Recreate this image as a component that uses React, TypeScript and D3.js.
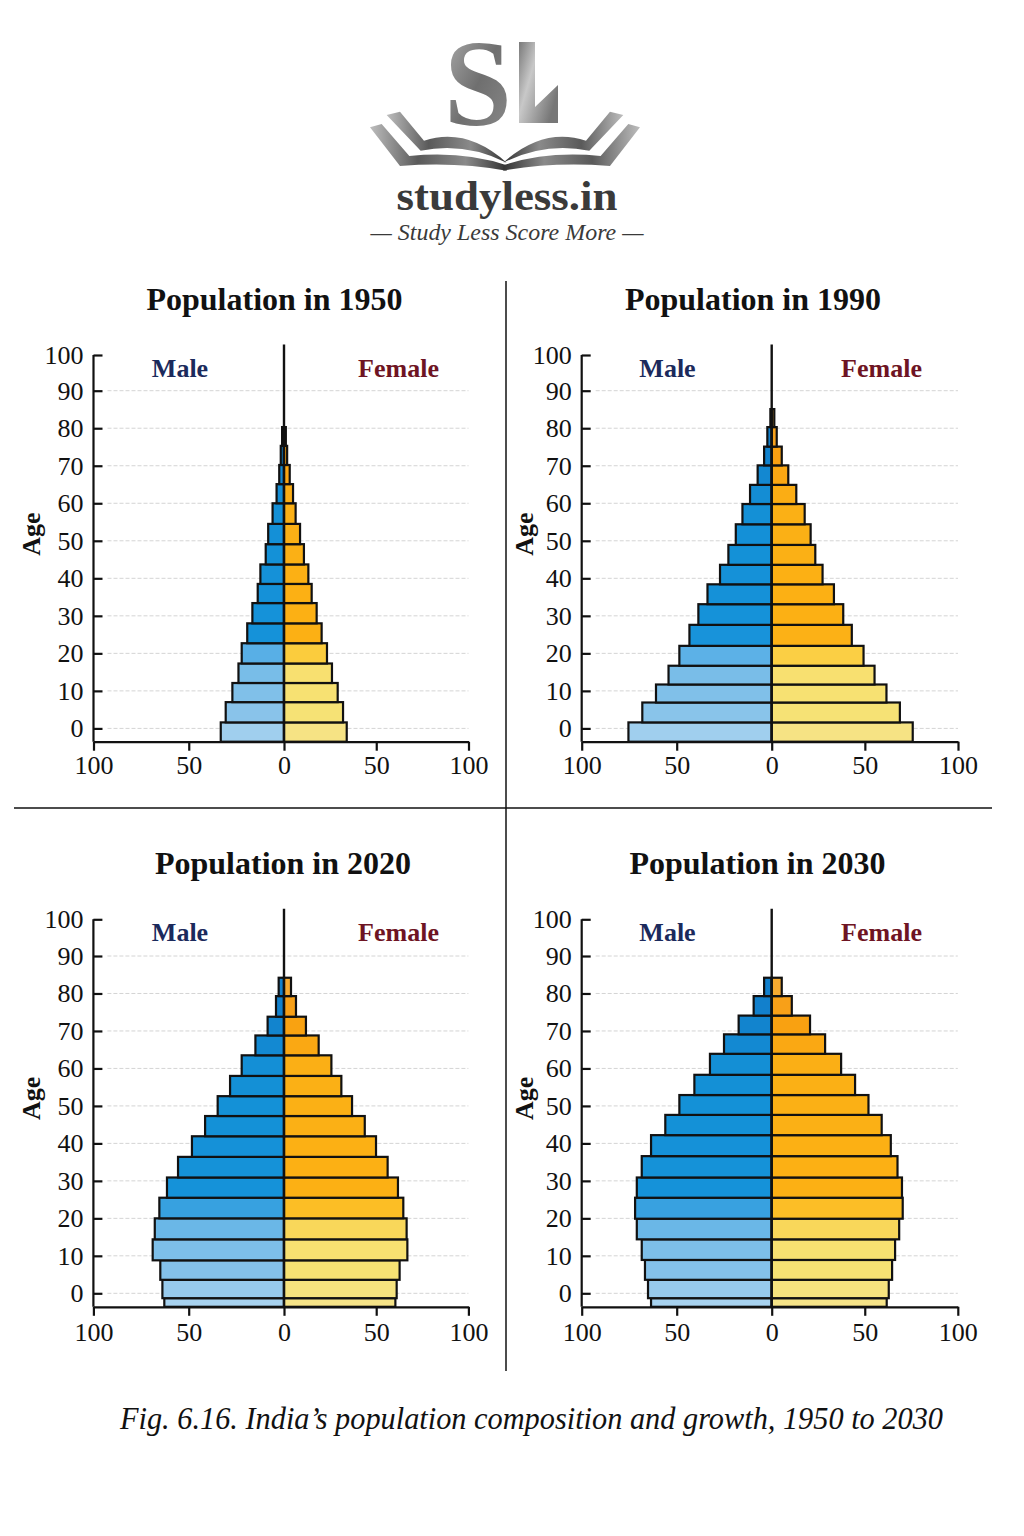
import { useEffect, useRef } from "react";
import * as d3 from "d3";

// age at the edge of each bar, bottom to top (one more edge than bars)
const edges1950 = [-3.55, 1.6, 7, 12.1, 17.3, 22.7, 28, 33.4, 38.5, 43.7, 49.1, 54.5, 60, 65.1, 70.2, 75.3, 80.3];
const male1950 = [33.2, 30.6, 27.1, 23.9, 22.2, 19.3, 16.6, 13.8, 12.4, 9.6, 8.3, 6.0, 3.9, 2.5, 1.7, 1.0];
const female1950 = [34, 32, 29.1, 26, 23.3, 20.4, 17.7, 15, 13.2, 10.8, 8.7, 6.3, 4.9, 3.1, 1.7, 1.0];

const edges1990 = [-3.55, 1.6, 6.9, 11.7, 16.7, 22, 27.6, 33.1, 38.4, 43.6, 48.9, 54.4, 59.8, 64.9, 70.1, 75.1, 80.3, 85.1];
const male1990 = [75.4, 68.1, 60.9, 54.3, 48.6, 43.3, 38.6, 33.8, 27.2, 22.8, 18.9, 15.4, 11.4, 7.4, 4, 2.3, 0.7];
const female1990 = [75.7, 68.8, 61.6, 55.2, 49.3, 43, 38.4, 33.4, 27.3, 23.4, 20.9, 17.7, 13.2, 8.9, 5.4, 2.7, 1.4];

const edges2020 = [-3.6, -1.3, 3.6, 8.8, 14.4, 20, 25.5, 30.9, 36.4, 41.9, 47.3, 52.6, 58, 63.5, 68.8, 73.8, 79.3, 84.2];
const male2020 = [62.8, 63.8, 64.9, 68.9, 67.8, 65.4, 61.4, 55.6, 48.3, 41.4, 34.8, 28.3, 22.2, 15, 8.6, 4.2, 2.8];
const female2020 = [60.4, 61.1, 62.7, 66.9, 66.5, 64.7, 61.8, 56.2, 49.9, 43.8, 36.9, 31.1, 25.7, 18.8, 11.9, 6.5, 3.8];

const edges2030 = [-3.6, -1.3, 3.6, 8.9, 14.4, 19.9, 25.5, 30.9, 36.6, 42.2, 47.6, 52.9, 58.3, 63.9, 69.1, 74.1, 79.3, 84.2];
const male2030 = [63.5, 65.1, 66.7, 68.4, 71, 71.9, 71, 68.4, 63.5, 56, 48.6, 40.7, 32.5, 25.1, 17.4, 9.5, 4];
const female2030 = [61.8, 62.9, 64.7, 66.3, 68.5, 70.4, 70, 67.6, 64, 59.1, 52, 44.8, 37.3, 28.7, 20.6, 10.8, 5.4];

const ageTicks = [0, 10, 20, 30, 40, 50, 60, 70, 80, 90, 100];
const gridAges = [0, 10, 20, 30, 40, 50, 60, 70, 80, 90];

const serif = "'Liberation Serif', serif";

const maleColor = d3.scaleLinear<string>()
    .domain([-3, 5, 15, 21, 25, 60, 75, 85])
    .range(["#a9d3ef", "#86c2ea", "#78bde8", "#52ace6", "#1592d9", "#1490d6", "#1280cc", "#1280cc"]);
const femaleColor = d3.scaleLinear<string>()
    .domain([-3, 5, 15, 21, 25, 60, 75, 85])
    .range(["#f6e48a", "#f6e273", "#f8e070", "#fcc833", "#fcb014", "#fbb015", "#f99d10", "#f4b040"]);

type PanelProps = {
    title: string;
    edges: number[];
    male: number[];
    female: number[];
    xl: number;
    x0: number;
    xr: number;
    y100: number;
    y90: number;
    y0: number;
    xPad: number;
    titleX: number;
    maleX: number;
    femaleX: number;
    ageX: number;
};

function Panel(p: PanelProps) {
    const axesRef = useRef<SVGGElement | null>(null);

    const left = d3.scaleLinear().domain([100, 0]).range([p.xl, p.x0]);
    const right = d3.scaleLinear().domain([0, 100]).range([p.x0, p.xr]);
    // the top tick sits a little closer to 90 than the others do
    const y = d3.scaleLinear().domain([0, 90, 100]).range([p.y0, p.y90, p.y100]);
    const base = y(p.edges[0]);

    useEffect(() => {
        const g = d3.select(axesRef.current!);
        g.selectAll("*").remove();
        const bottomL = d3.axisBottom(left).tickValues([100, 50, 0]).tickSizeInner(9).tickSizeOuter(0).tickPadding(p.xPad).tickFormat(d3.format("d") as any);
        const bottomR = d3.axisBottom(right).tickValues([50, 100]).tickSizeInner(9).tickSizeOuter(0).tickPadding(p.xPad).tickFormat(d3.format("d") as any);
        const ageAxis = d3.axisLeft(y).tickValues(ageTicks).tickSizeInner(-9).tickSizeOuter(0).tickPadding(10).tickFormat(d3.format("d") as any);

        g.append("g").attr("transform", `translate(0,${base})`).call(bottomL);
        g.append("g").attr("transform", `translate(0,${base})`).call(bottomR);
        const ya = g.append("g").attr("transform", `translate(${p.xl},0)`).call(ageAxis);
        ya.select(".domain").attr("d", `M0,${p.y100}V${base}`);

        g.selectAll(".domain, .tick line").attr("stroke", "#111").attr("stroke-width", 2.2);
        g.selectAll("text").attr("fill", "#111").attr("font-family", serif).attr("font-size", 26);
    }, []);

    const bands = p.male.map((m, i) => ({
        male: m,
        female: p.female[i],
        y0: y(p.edges[i]),
        y1: y(p.edges[i + 1]),
        mid: (p.edges[i] + p.edges[i + 1]) / 2,
    }));

    return (
        <g>
            <text x={p.titleX} y={p.y100 - 45} textAnchor="middle" fontFamily={serif} fontWeight="bold" fontSize={32} fill="#111">
                {p.title}
            </text>
            {gridAges.map((a) => (
                <line key={a} x1={p.xl + 14} x2={p.xr} y1={y(a)} y2={y(a)} stroke="#d4d4d4" strokeWidth={1} strokeDasharray="4 2" />
            ))}
            {bands.map((b, i) => (
                <g key={i} stroke="#111" strokeWidth={2.2}>
                    <rect x={left(b.male)} y={b.y1} width={p.x0 - left(b.male)} height={b.y0 - b.y1} fill={maleColor(b.mid)} />
                    <rect x={p.x0} y={b.y1} width={right(b.female) - p.x0} height={b.y0 - b.y1} fill={femaleColor(b.mid)} />
                </g>
            ))}
            <line x1={p.x0} x2={p.x0} y1={p.y100 - 10.5} y2={base} stroke="#111" strokeWidth={2.4} />
            <g ref={axesRef} />
            <text x={p.maleX} y={p.y100 + 22} textAnchor="middle" fontFamily={serif} fontWeight="bold" fontSize={26} fill="#1b2a5c">Male</text>
            <text x={p.femaleX} y={p.y100 + 22} textAnchor="middle" fontFamily={serif} fontWeight="bold" fontSize={26} fill="#6e1423">Female</text>
            <text
                transform={`translate(${p.ageX},${p.y100 + 179}) rotate(-90)`}
                textAnchor="middle"
                fontFamily={serif}
                fontWeight="bold"
                fontSize={26}
                fill="#111"
            >
                Age
            </text>
        </g>
    );
}

function Logo() {
    const wing = (
        <>
            <path d="M110,285 L150,275 L222,362 Q350,320 470,428 Q345,365 212,392 Z" fill="url(#wingGrad)" />
            <path d="M60,322 L95,312 L178,408 Q340,392 470,436 L470,452 Q320,425 150,438 Z" fill="url(#wingGrad)" />
        </>
    );
    return (
        <g>
            <defs>
                <linearGradient id="sGrad" x1="0" y1="0" x2="1" y2="1">
                    <stop offset="0" stopColor="#b5b5b5" />
                    <stop offset="0.5" stopColor="#6f6f6f" />
                    <stop offset="1" stopColor="#8e8e8e" />
                </linearGradient>
                <linearGradient id="lGrad" x1="0" y1="0" x2="1" y2="0.6">
                    <stop offset="0" stopColor="#7a7a7a" />
                    <stop offset="0.4" stopColor="#c8c8c8" />
                    <stop offset="1" stopColor="#777" />
                </linearGradient>
                <linearGradient id="wingGrad" x1="0" y1="0" x2="1" y2="0">
                    <stop offset="0" stopColor="#bdbdbd" />
                    <stop offset="0.35" stopColor="#5a5a5a" />
                    <stop offset="0.7" stopColor="#8a8a8a" />
                    <stop offset="1" stopColor="#333" />
                </linearGradient>
            </defs>
            <text x={478} y={125} textAnchor="middle" fontFamily={serif} fontWeight="bold" fontSize={122} fill="url(#sGrad)">S</text>
            <path d="M519,42 L535,42 L535,107 L558,85 L558,123 L519,123 Z" fill="url(#lGrad)" />
            <g transform="translate(350,20) scale(0.3333)">
                {wing}
                <g transform="translate(930,0) scale(-1,1)">{wing}</g>
            </g>
            <text x={507} y={210} textAnchor="middle" fontFamily={serif} fontSize={42} fontWeight="bold" fill="#3a3a3a" textLength={221} lengthAdjust="spacingAndGlyphs">
                studyless.in
            </text>
            <text x={507} y={240} textAnchor="middle" fontFamily={serif} fontStyle="italic" fontSize={24} fill="#3a3a3a" textLength={273} lengthAdjust="spacingAndGlyphs">
                — Study Less Score More —
            </text>
        </g>
    );
}

export default function App() {
    return (
        <svg width={1024} height={1536} style={{ position: "absolute", left: 0, top: 0, background: "#fff" }}>
            <Logo />
            <line x1={506} x2={506} y1={281} y2={1371} stroke="#111" strokeWidth={1.5} />
            <line x1={14} x2={992} y1={808} y2={808} stroke="#111" strokeWidth={1.5} />
            <Panel title="Population in 1950" edges={edges1950} male={male1950} female={female1950} xPad={5}
                xl={93.5} x0={284} xr={468.5} y100={355} y90={390.7} y0={728.4} titleX={274.5} maleX={180} femaleX={398.5} ageX={40} />
            <Panel title="Population in 1990" edges={edges1990} male={male1990} female={female1990} xPad={5}
                xl={581.7} x0={771.7} xr={958} y100={355} y90={390.7} y0={728.4} titleX={753} maleX={667.5} femaleX={881.5} ageX={533} />
            <Panel title="Population in 2020" edges={edges2020} male={male2020} female={female2020} xPad={7}
                xl={93.4} x0={284} xr={468.4} y100={919.3} y90={956} y0={1293.3} titleX={283} maleX={180} femaleX={398.5} ageX={40} />
            <Panel title="Population in 2030" edges={edges2030} male={male2030} female={female2030} xPad={7}
                xl={581.7} x0={771.7} xr={957.8} y100={919.3} y90={956} y0={1293.3} titleX={757.5} maleX={667.5} femaleX={881.5} ageX={533} />
            <text x={120} y={1429} fontFamily={serif} fontStyle="italic" fontSize={32} fill="#111" textLength={823} lengthAdjust="spacingAndGlyphs">
                Fig. 6.16. India’s population composition and growth, 1950 to 2030
            </text>
        </svg>
    );
}
